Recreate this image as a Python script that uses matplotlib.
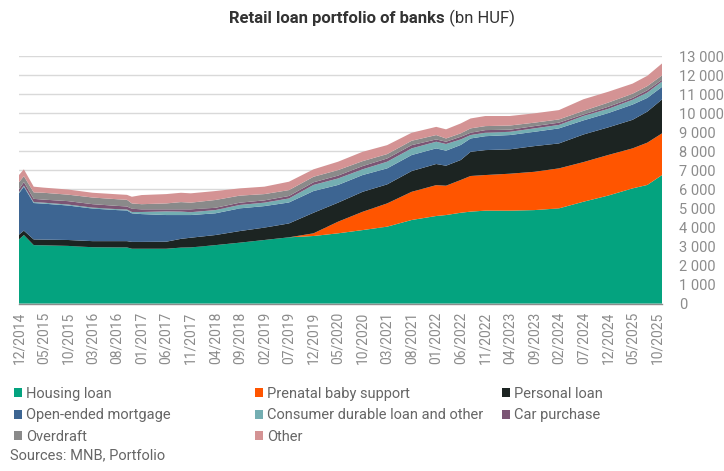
import numpy as np
import matplotlib
matplotlib.use("Agg")
import matplotlib.pyplot as plt
from matplotlib.patches import Patch
from matplotlib.ticker import FuncFormatter, MultipleLocator

plt.rcParams["font.family"] = ["Roboto", "DejaVu Sans"]

# data (bn HUF) at these months
dates = ["12/2014", "01/2015", "03/2015", "05/2015", "10/2015", "03/2016", "08/2016",
         "10/2016", "11/2016", "01/2017", "06/2017", "09/2017", "11/2017", "04/2018",
         "09/2018", "02/2019", "07/2019", "12/2019", "05/2020", "10/2020", "03/2021",
         "08/2021", "01/2022", "03/2022", "06/2022", "08/2022", "11/2022", "04/2023",
         "09/2023", "02/2024", "07/2024", "12/2024", "05/2025", "08/2025", "11/2025"]

housing = [3370, 3600, 3070, 3060, 3030, 2960, 2950, 2950, 2880, 2880, 2880, 2940,
           2950, 3070, 3200, 3340, 3480, 3550, 3690, 3860, 4040, 4390, 4600, 4650,
           4770, 4830, 4880, 4880, 4910, 5000, 5350, 5670, 6050, 6230, 6750]
prenatal = [0, 0, 0, 0, 0, 0, 0, 0, 0, 0, 0, 0, 0, 0, 0, 0, 0, 140, 610, 960,
            1220, 1480, 1620, 1540, 1720, 1870, 1870, 1940, 2010, 2100, 2080, 2130,
            2100, 2220, 2190]
personal = [250, 230, 300, 300, 310, 320, 330, 330, 360, 360, 370, 460, 510, 530,
            610, 650, 730, 1080, 1000, 1050, 1000, 1090, 1110, 1050, 1050, 1270,
            1310, 1280, 1350, 1310, 1450, 1450, 1500, 1630, 1780]
open_ended = [2170, 2310, 1910, 1890, 1810, 1710, 1630, 1610, 1500, 1460, 1400, 1250,
              1190, 1140, 1190, 1130, 1100, 1140, 930, 880, 840, 840, 820, 790, 790,
              700, 730, 750, 750, 790, 740, 750, 800, 720, 660]
consumer = [60, 50, 50, 50, 50, 50, 50, 50, 70, 110, 190, 180, 150, 170, 180, 180,
            210, 320, 340, 300, 350, 350, 350, 350, 290, 180, 180, 170, 180, 180,
            230, 220, 250, 280, 280]
car = [150, 190, 170, 160, 180, 180, 170, 160, 170, 140, 110, 120, 150, 120, 120,
       120, 130, 140, 150, 170, 170, 170, 120, 120, 140, 120, 140, 110, 120, 120,
       80, 110, 100, 120, 90]
overdraft = [370, 310, 340, 360, 340, 350, 350, 350, 280, 270, 310, 380, 350, 410,
             370, 330, 310, 290, 290, 260, 230, 230, 230, 170, 180, 230, 210, 220,
             180, 170, 190, 220, 220, 220, 230]
other = [380, 360, 300, 270, 270, 250, 260, 260, 350, 480, 490, 490, 490, 470, 380,
         390, 440, 390, 440, 490, 470, 420, 430, 480, 520, 520, 530, 500, 490, 490,
         610, 570, 530, 540, 630]

names = ["Housing loan", "Prenatal baby support", "Personal loan", "Open-ended mortgage",
         "Consumer durable loan and other", "Car purchase", "Overdraft", "Other"]
colors = ["#04A37F", "#FF5500", "#1C2422", "#3D6592", "#74AEB2", "#7B5574",
          "#8A8A8A", "#D49394"]

tick_labels = ["12/2014", "05/2015", "10/2015", "03/2016", "08/2016", "01/2017",
               "06/2017", "11/2017", "04/2018", "09/2018", "02/2019", "07/2019",
               "12/2019", "05/2020", "10/2020", "03/2021", "08/2021", "01/2022",
               "06/2022", "11/2022", "04/2023", "09/2023", "02/2024", "07/2024",
               "12/2024", "05/2025", "10/2025"]


def month_index(s):
    mm, yy = s.split("/")
    return (int(yy) - 2014) * 12 + int(mm) - 12


x = np.array([month_index(d) for d in dates])
series = [housing, prenatal, personal, open_ended, consumer, car, overdraft, other]

TXT = "#8C8C8C"

fig = plt.figure(figsize=(7.24, 4.71), dpi=100)
ax = fig.add_axes([0.0262, 0.3554, 0.8882, 0.5257])

ax.stackplot(x, *series, colors=colors, linewidth=0)

ax.set_xlim(0, month_index("11/2025"))
ax.set_ylim(0, 13000)
ax.yaxis.set_major_locator(MultipleLocator(1000))
ax.yaxis.tick_right()
ax.yaxis.set_major_formatter(FuncFormatter(lambda v, p: f"{int(v):,}".replace(",", " ")))
ax.grid(axis="y", color="#D9D9D9", linewidth=1)
ax.set_axisbelow(True)

ax.set_xticks([month_index(t) for t in tick_labels])
ax.set_xticklabels(tick_labels, rotation=90)
ax.tick_params(axis="x", length=0, pad=6, labelsize=10, labelcolor=TXT)
ax.tick_params(axis="y", length=0, pad=12, labelsize=10.5, labelcolor=TXT)

for side in ["top", "left", "right"]:
    ax.spines[side].set_visible(False)
ax.spines["bottom"].set_color("#8C8C8C")
ax.spines["bottom"].set_linewidth(1)

# title: bold part + regular part, centred together
renderer = fig.canvas.get_renderer()
t1 = fig.text(0, 0, "Retail loan portfolio of banks", fontsize=12, fontweight="bold",
              color="#333333")
t2 = fig.text(0, 0, " (bn HUF)", fontsize=12, color="#333333")
w1 = t1.get_window_extent(renderer).width
w2 = t2.get_window_extent(renderer).width
cx = 372
ty = 471 - 18
t1.set_position(((cx - (w1 + w2) / 2) / 724, ty / 471))
t2.set_position(((cx - (w1 + w2) / 2 + w1) / 724, ty / 471))
t1.set_va("center")
t2.set_va("center")

# legend, three columns placed by hand
handles = [Patch(facecolor=c, edgecolor="none", label=n) for c, n in zip(colors, names)]
cols = [[0, 3, 6], [1, 4, 7], [2, 5]]
col_x = [14, 255, 502]
for idx, cx0 in zip(cols, col_x):
    fig.legend(handles=[handles[i] for i in idx], loc="upper left",
               bbox_to_anchor=(cx0 / 724, 1 - 387 / 471), frameon=False,
               fontsize=10.5, labelcolor="#666666", handlelength=0.55,
               handleheight=0.55, handletextpad=0.25, labelspacing=0.5,
               borderaxespad=0, borderpad=0)

fig.text(10 / 724, 1 - 455 / 471, "Sources: MNB, Portfolio", fontsize=10.5,
         color="#666666", va="center")

fig.savefig("out.png", dpi=100)
